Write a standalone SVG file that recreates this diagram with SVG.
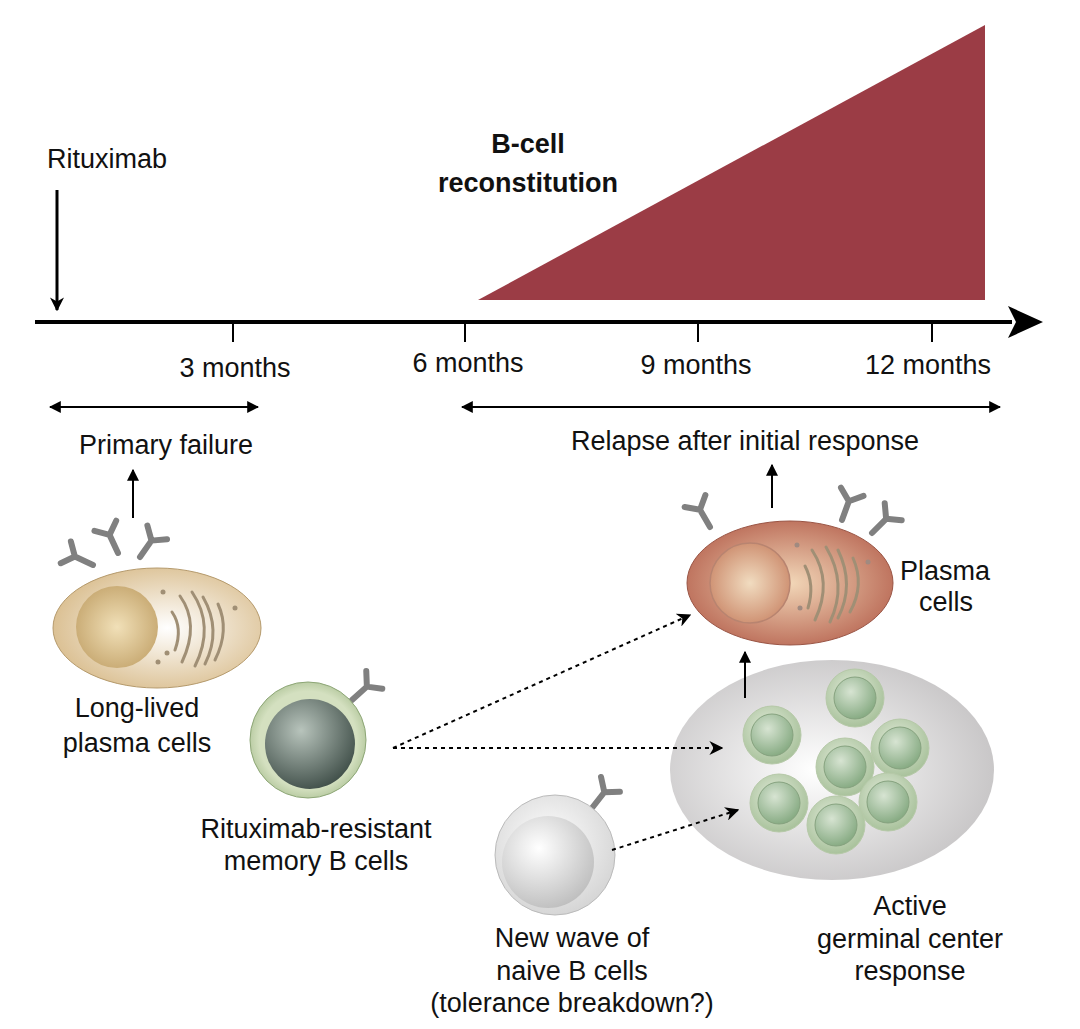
<svg xmlns="http://www.w3.org/2000/svg" width="1080" height="1029" viewBox="0 0 1080 1029">
<defs>
<marker id="ah" viewBox="0 0 10 10" refX="9" refY="5" markerWidth="12" markerHeight="12" orient="auto-start-reverse" markerUnits="userSpaceOnUse"><path d="M0,0 L10,5 L0,10 Z" fill="#000"/></marker>
<marker id="ahs" viewBox="0 0 10 10" refX="9" refY="5" markerWidth="14" markerHeight="14" orient="auto-start-reverse" markerUnits="userSpaceOnUse"><path d="M0,0 L10,5 L0,10 L3,5 Z" fill="#000"/></marker>
<radialGradient id="tan" cx="0.55" cy="0.5" r="0.6"><stop offset="0" stop-color="#fff"/><stop offset="1" stop-color="#d8bb8a"/></radialGradient>
<radialGradient id="tanN" cx="0.5" cy="0.5" r="0.6"><stop offset="0" stop-color="#f1e0b8"/><stop offset="1" stop-color="#c3a36a"/></radialGradient>
<radialGradient id="red" cx="0.5" cy="0.5" r="0.6"><stop offset="0" stop-color="#f2d7b8"/><stop offset="1" stop-color="#b5614e"/></radialGradient>
<radialGradient id="redN" cx="0.5" cy="0.5" r="0.6"><stop offset="0" stop-color="#f1dcc0"/><stop offset="1" stop-color="#c98566"/></radialGradient>
<radialGradient id="grn" cx="0.5" cy="0.5" r="0.6"><stop offset="0.7" stop-color="#d4e0c0"/><stop offset="1" stop-color="#9cb583"/></radialGradient>
<radialGradient id="dark" cx="0.4" cy="0.35" r="0.7"><stop offset="0" stop-color="#b8c4bc"/><stop offset="1" stop-color="#3e4d47"/></radialGradient>
<radialGradient id="gc" cx="0.45" cy="0.5" r="0.6"><stop offset="0" stop-color="#fff"/><stop offset="1" stop-color="#c4c2c3"/></radialGradient>
<radialGradient id="gcO" cx="0.45" cy="0.4" r="0.6"><stop offset="0" stop-color="#e4ecdc"/><stop offset="1" stop-color="#a9c29c"/></radialGradient>
<radialGradient id="gcI" cx="0.4" cy="0.35" r="0.7"><stop offset="0" stop-color="#d7e4d2"/><stop offset="1" stop-color="#83a87f"/></radialGradient>
<radialGradient id="wht" cx="0.45" cy="0.4" r="0.7"><stop offset="0" stop-color="#fff"/><stop offset="1" stop-color="#cfcfcf"/></radialGradient>
<radialGradient id="whtN" cx="0.4" cy="0.35" r="0.7"><stop offset="0" stop-color="#fff"/><stop offset="1" stop-color="#bdbdbd"/></radialGradient>
<g id="ab"><path d="M0,0 L0,-20 M0,-20 L-12,-30 M0,-20 L12,-30" fill="none" stroke="#808080" stroke-width="6" stroke-linecap="round"/></g>
<g id="gcell"><circle r="29" fill="url(#gcO)" stroke="#b6c9a8" stroke-width="1"/><circle r="21" fill="url(#gcI)" stroke="#86a27f" stroke-width="1"/></g>
</defs>
<style>
text{font-family:"Liberation Sans",Arial,sans-serif;font-size:27px;fill:#111}
.c{text-anchor:middle}
.ln{stroke:#000;stroke-width:2;fill:none}
.dot{stroke:#000;stroke-width:2;fill:none;stroke-dasharray:4,4}
.er{fill:none;stroke:#a08f75;stroke-width:3;stroke-linecap:round}
</style>
<g id="reconstitution"><polygon points="478,300 985,300 985,25" fill="#9b3c45"/>
<text class="c" x="528" y="153" font-weight="bold">B-cell</text><text class="c" x="528" y="192" font-weight="bold">reconstitution</text></g>
<g id="timeline">
<line x1="35" y1="322" x2="1012" y2="322" stroke="#000" stroke-width="4"/>
<polygon points="1008,306 1043,322 1008,338 1016,322" fill="#000"/>
<path class="ln" d="M233,322 V342 M465,322 V342 M698,322 V342 M932,322 V342"/>
<text class="c" x="235" y="377">3 months</text><text class="c" x="468" y="372">6 months</text><text class="c" x="696" y="374">9 months</text><text class="c" x="928" y="374">12 months</text>
</g>
<g id="rituximab"><text x="47" y="168">Rituximab</text><line x1="57" y1="190" x2="57" y2="310" stroke="#000" stroke-width="3" marker-end="url(#ahs)"/></g>
<g id="labels-top"><text class="c" x="166" y="454">Primary failure</text><text class="c" x="745" y="450">Relapse after initial response</text></g>
<g id="longlived">
<use href="#ab" transform="translate(93,565) rotate(-65)"/><use href="#ab" transform="translate(118,553) rotate(-25)"/><use href="#ab" transform="translate(140,557) rotate(35)"/>
<ellipse cx="157" cy="628" rx="104" ry="60" fill="url(#tan)" stroke="#b59a6c" stroke-width="1"/>
<circle cx="117" cy="627" r="41" fill="url(#tanN)"/>
<path class="er" d="M172,612 Q183,628 175,650 M180,596 Q200,624 182,662 M192,592 Q215,626 195,666 M203,597 Q222,630 205,664 M218,604 Q230,630 215,660"/>
<circle cx="163" cy="592" r="2.5" fill="#a08f75"/><circle cx="235" cy="608" r="2.5" fill="#a08f75"/><circle cx="167" cy="653" r="2.5" fill="#a08f75"/><circle cx="158" cy="662" r="2.5" fill="#a08f75"/>
<text class="c" x="137" y="717">Long-lived</text><text class="c" x="137" y="752">plasma cells</text>
</g>
<g id="memory">
<use href="#ab" transform="translate(352,700) rotate(48)"/>
<circle cx="308" cy="740" r="58" fill="url(#grn)" stroke="#8da676" stroke-width="1"/>
<circle cx="310" cy="744" r="45" fill="url(#dark)"/>
<text class="c" x="316" y="838">Rituximab-resistant</text><text class="c" x="316" y="870">memory B cells</text>
</g>
<g id="plasma">
<use href="#ab" transform="translate(710,527) rotate(-30)"/><use href="#ab" transform="translate(842,520) rotate(20)"/><use href="#ab" transform="translate(872,533) rotate(45)"/>
<ellipse cx="790" cy="583" rx="103" ry="62" fill="url(#red)" stroke="#9a5545" stroke-width="1"/>
<circle cx="750" cy="583" r="40" fill="url(#redN)" stroke="#b88470" stroke-width="1.5"/>
<path class="er" d="M805,566 Q815,585 808,608 M812,550 Q833,582 815,620 M826,547 Q848,584 830,622 M838,550 Q855,585 838,618 M853,558 Q865,585 850,612" stroke="#a08a80"/>
<circle cx="797" cy="545" r="2.5" fill="#a08a80"/><circle cx="868" cy="562" r="2.5" fill="#a08a80"/><circle cx="800" cy="608" r="2.5" fill="#a08a80"/>
<text x="900" y="580">Plasma</text><text x="919" y="611">cells</text>
</g>
<g id="germinal">
<ellipse cx="832" cy="770" rx="162" ry="110" fill="url(#gc)"/>
<use href="#gcell" x="855" y="698"/><use href="#gcell" x="772" y="735"/><use href="#gcell" x="900" y="748"/><use href="#gcell" x="845" y="767"/><use href="#gcell" x="779" y="803"/><use href="#gcell" x="888" y="802"/><use href="#gcell" x="836" y="825"/>
<text class="c" x="910" y="915">Active</text><text class="c" x="910" y="948">germinal center</text><text class="c" x="910" y="980">response</text>
</g>
<g id="naive">
<use href="#ab" transform="translate(592,808) rotate(38)"/>
<circle cx="555" cy="855" r="60" fill="url(#wht)" stroke="#bbb" stroke-width="1"/>
<circle cx="548" cy="862" r="46" fill="url(#whtN)"/>
<text class="c" x="572" y="947">New wave of</text><text class="c" x="572" y="980">naive B cells</text><text class="c" x="572" y="1012">(tolerance breakdown?)</text>
</g>
<g id="connectors">
<line class="ln" x1="50" y1="407" x2="258" y2="407" marker-start="url(#ah)" marker-end="url(#ah)"/>
<line class="ln" x1="462" y1="407" x2="1000" y2="407" marker-start="url(#ah)" marker-end="url(#ah)"/>
<line class="ln" x1="133" y1="518" x2="133" y2="470" marker-end="url(#ah)"/>
<line class="ln" x1="772" y1="508" x2="772" y2="465" marker-end="url(#ah)"/>
<line class="ln" x1="745" y1="698" x2="745" y2="652" marker-end="url(#ah)"/>
<line class="dot" x1="393" y1="748" x2="690" y2="615" marker-end="url(#ahs)"/>
<line class="dot" x1="393" y1="748" x2="722" y2="748" marker-end="url(#ahs)"/>
<line class="dot" x1="612" y1="850" x2="738" y2="810" marker-end="url(#ahs)"/>
</g>
</svg>
